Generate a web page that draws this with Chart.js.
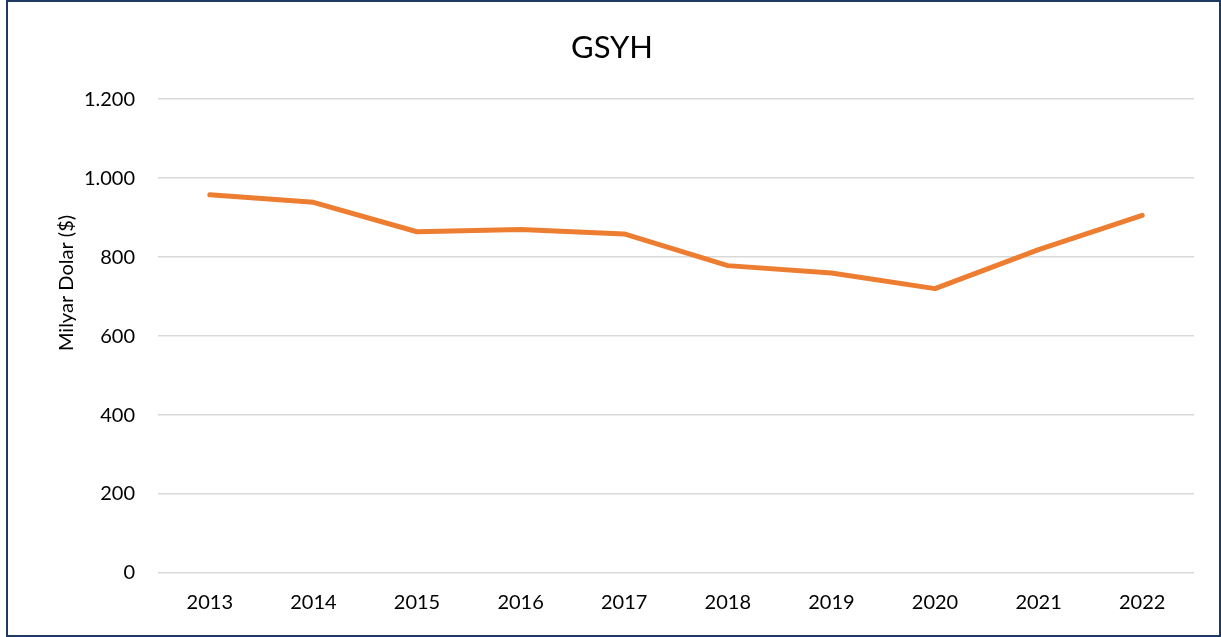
<!DOCTYPE html>
<html>
<head>
<meta charset="utf-8">
<script src="https://cdn.jsdelivr.net/npm/chart.js@4"></script>
<style>
  body { margin: 0; background: #fff; }
  #wrap { position: relative; width: 1221px; height: 637px; }
  #frame { position: absolute; left: 6px; top: 0; width: 1211px; height: 633px; border: 2px solid #1f3864; pointer-events: none; }
  canvas { position: absolute; left: 0; top: 0; }
</style>
</head>
<body>
<div id="wrap">
  <canvas id="chart" width="1221" height="637"></canvas>
  <div id="frame"></div>
</div>
<script>
const years = ['2013', '2014', '2015', '2016', '2017', '2018', '2019', '2020', '2021', '2022'];
const gsyh = [957.8, 938.9, 864.3, 869.7, 858.9, 778.5, 760.0, 720.3, 819.0, 905.8];
const yTicks = [0, 200, 400, 600, 800, 1000, 1200];
const yTitle = 'Milyar Dolar ($)';

const font = "Lato, 'Open Sans', sans-serif";

// y axis title sits a bit above the middle of the plot, like the original
const yTitlePlugin = {
    id: 'yTitle',
    afterDraw(chart) {
        const ctx = chart.ctx;
        ctx.save();
        ctx.translate(67, 283);
        ctx.rotate(-Math.PI / 2);
        ctx.font = '20px ' + font;
        ctx.fillStyle = '#000';
        ctx.textAlign = 'center';
        ctx.textBaseline = 'middle';
        ctx.fillText(yTitle, 0, 0);
        ctx.restore();
    }
};

new Chart(document.getElementById('chart'), {
    type: 'line',
    data: {
        labels: years,
        datasets: [{
            label: 'GSYH',
            data: gsyh,
            borderColor: '#ed7d31',
            backgroundColor: '#ed7d31',
            borderWidth: 5,
            pointRadius: 0,
            borderCapStyle: 'round',
            borderJoinStyle: 'round',
            tension: 0
        }]
    },
    plugins: [yTitlePlugin],
    options: {
        responsive: false,
        animation: false,
        layout: { padding: { left: 30, right: 27, top: 29, bottom: 4 } },
        plugins: {
            legend: { display: false },
            tooltip: { enabled: false },
            title: {
                display: true,
                text: 'GSYH',
                color: '#000',
                font: { family: font, size: 31, weight: 'normal' },
                padding: { top: 0, bottom: 33 }
            }
        },
        scales: {
            x: {
                offset: true,
                grid: { display: false, drawTicks: false },
                border: { display: false },
                ticks: { color: '#000', font: { family: font, size: 20 }, padding: 18 }
            },
            y: {
                min: 0,
                max: 1200,
                afterBuildTicks: s => { s.ticks = yTicks.map(v => ({ value: v })); },
                afterFit: s => { s.width = 128; },
                grid: { color: '#d9d9d9', lineWidth: 1.5, drawTicks: false },
                border: { display: false },
                ticks: {
                    color: '#000',
                    font: { family: font, size: 20 },
                    padding: 23,
                    callback: v => v.toLocaleString('de-DE')
                }
            }
        }
    }
});
</script>
</body>
</html>
